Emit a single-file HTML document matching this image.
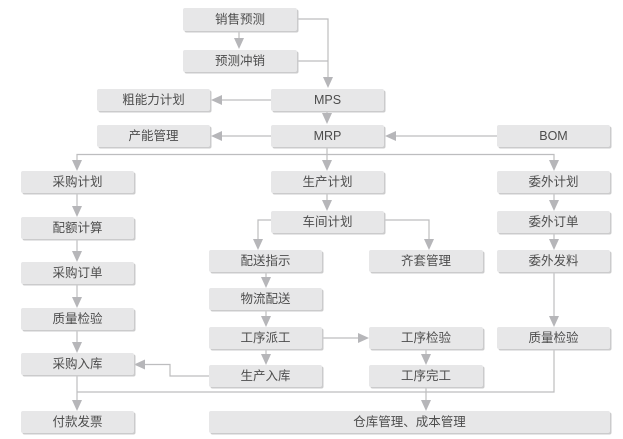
<!DOCTYPE html>
<html><head><meta charset="utf-8"><style>
html,body{margin:0;padding:0;background:#fff;}
svg{display:block;}
text{font-family:"Liberation Sans","Noto Sans CJK SC",sans-serif;font-size:12.5px;fill:#4d4d4d;text-anchor:middle;dominant-baseline:central;}
.l{stroke:#bdbdbf;stroke-width:1.2;fill:none;}
.a{fill:#b6b6b9;}
.s{fill:#cbcbcc;}
.b{fill:#e7e7e8;}
</style></head><body>
<svg width="623" height="439" viewBox="0 0 623 439" xmlns="http://www.w3.org/2000/svg">
<defs>
<g id="ad"><polygon class="a" points="-5,-11 5,-11 0,0"/></g>
<g id="al"><polygon class="a" points="0,0 11,-5 11,5"/></g>
<g id="ar"><polygon class="a" points="0,0 -11,-5 -11,5"/></g>
</defs>
<!-- connectors -->
<polyline class="l" points="297,19 328,19 328,80"/>
<polyline class="l" points="297,61 328,61"/>
<use href="#ad" x="328" y="88"/>
<line class="l" x1="239" y1="31" x2="239" y2="40"/>
<use href="#ad" x="239" y="49"/>
<line class="l" x1="271" y1="100" x2="218" y2="100"/>
<use href="#al" x="211" y="100"/>
<line class="l" x1="271" y1="136" x2="218" y2="136"/>
<use href="#al" x="211" y="136"/>
<line class="l" x1="497" y1="136" x2="392" y2="136"/>
<use href="#al" x="385" y="136"/>
<line class="l" x1="327" y1="111" x2="327" y2="116"/>
<use href="#ad" x="327" y="124"/>
<line class="l" x1="327" y1="147" x2="327" y2="163"/>
<use href="#ad" x="327" y="171"/>
<polyline class="l" points="77,163 77,154.5 554,154.5 554,163"/>
<use href="#ad" x="77" y="171"/>
<use href="#ad" x="554" y="171"/>
<line class="l" x1="327" y1="193" x2="327" y2="203"/>
<use href="#ad" x="327" y="211"/>
<polyline class="l" points="271,220 258,220 258,242"/>
<use href="#ad" x="258" y="250"/>
<polyline class="l" points="384,220 429,220 429,242"/>
<use href="#ad" x="429" y="250"/>
<line class="l" x1="554" y1="193" x2="554" y2="203"/>
<use href="#ad" x="554" y="211"/>
<line class="l" x1="554" y1="233" x2="554" y2="242"/>
<use href="#ad" x="554" y="250"/>
<line class="l" x1="554" y1="273" x2="554" y2="319"/>
<use href="#ad" x="554" y="327"/>
<polyline class="l" points="554,350 554,392 77,392"/>
<line class="l" x1="77" y1="193" x2="77" y2="209"/>
<use href="#ad" x="77" y="217"/>
<line class="l" x1="77" y1="239" x2="77" y2="254"/>
<use href="#ad" x="77" y="262"/>
<line class="l" x1="77" y1="284" x2="77" y2="300"/>
<use href="#ad" x="77" y="308"/>
<line class="l" x1="77" y1="330" x2="77" y2="345"/>
<use href="#ad" x="77" y="353"/>
<line class="l" x1="77" y1="376" x2="77" y2="403"/>
<use href="#ad" x="77" y="411"/>
<line class="l" x1="266" y1="272" x2="266" y2="280"/>
<use href="#ad" x="266" y="288"/>
<line class="l" x1="266" y1="311" x2="266" y2="319"/>
<use href="#ad" x="266" y="327"/>
<line class="l" x1="266" y1="350" x2="266" y2="357"/>
<use href="#ad" x="266" y="365"/>
<line class="l" x1="322" y1="338" x2="361" y2="338"/>
<use href="#ar" x="369" y="338"/>
<line class="l" x1="426" y1="350" x2="426" y2="357"/>
<use href="#ad" x="426" y="365"/>
<line class="l" x1="426" y1="388" x2="426" y2="403"/>
<use href="#ad" x="426" y="411"/>
<polyline class="l" points="209,376 170,376 170,364.5 141,364.5"/>
<use href="#al" x="134" y="364.5"/>

<!-- boxes -->
<g id="boxes">
<rect class="s" x="184.5" y="9.5" width="114" height="23" rx="2"/><rect class="b" x="183" y="8" width="114" height="23" rx="2"/><text x="240" y="19.5">销售预测</text>
<rect class="s" x="184.5" y="51.5" width="114" height="22" rx="2"/><rect class="b" x="183" y="50" width="114" height="22" rx="2"/><text x="240" y="61">预测冲销</text>
<rect class="s" x="98.5" y="90.5" width="113" height="22" rx="2"/><rect class="b" x="97" y="89" width="113" height="22" rx="2"/><text x="153.5" y="100">粗能力计划</text>
<rect class="s" x="272.5" y="90.5" width="113" height="22" rx="2"/><rect class="b" x="271" y="89" width="113" height="22" rx="2"/><text x="327.5" y="100">MPS</text>
<rect class="s" x="98.5" y="126.5" width="113" height="22" rx="2"/><rect class="b" x="97" y="125" width="113" height="22" rx="2"/><text x="153.5" y="136">产能管理</text>
<rect class="s" x="272.5" y="126.5" width="113" height="22" rx="2"/><rect class="b" x="271" y="125" width="113" height="22" rx="2"/><text x="327.5" y="136">MRP</text>
<rect class="s" x="498.5" y="126.5" width="113" height="22" rx="2"/><rect class="b" x="497" y="125" width="113" height="22" rx="2"/><text x="553.5" y="136">BOM</text>
<rect class="s" x="22.5" y="172.5" width="113" height="22" rx="2"/><rect class="b" x="21" y="171" width="113" height="22" rx="2"/><text x="77.5" y="182">采购计划</text>
<rect class="s" x="272.5" y="172.5" width="113" height="22" rx="2"/><rect class="b" x="271" y="171" width="113" height="22" rx="2"/><text x="327.5" y="182">生产计划</text>
<rect class="s" x="498.5" y="172.5" width="113" height="22" rx="2"/><rect class="b" x="497" y="171" width="113" height="22" rx="2"/><text x="553.5" y="182">委外计划</text>
<rect class="s" x="22.5" y="218.5" width="113" height="22" rx="2"/><rect class="b" x="21" y="217" width="113" height="22" rx="2"/><text x="77.5" y="228">配额计算</text>
<rect class="s" x="272.5" y="212.5" width="113" height="22" rx="2"/><rect class="b" x="271" y="211" width="113" height="22" rx="2"/><text x="327.5" y="222">车间计划</text>
<rect class="s" x="498.5" y="212.5" width="113" height="22" rx="2"/><rect class="b" x="497" y="211" width="113" height="22" rx="2"/><text x="553.5" y="222">委外订单</text>
<rect class="s" x="210.5" y="251.5" width="113" height="22" rx="2"/><rect class="b" x="209" y="250" width="113" height="22" rx="2"/><text x="265.5" y="261">配送指示</text>
<rect class="s" x="370.5" y="251.5" width="114" height="22" rx="2"/><rect class="b" x="369" y="250" width="114" height="22" rx="2"/><text x="426" y="261">齐套管理</text>
<rect class="s" x="498.5" y="251.5" width="113" height="22" rx="2"/><rect class="b" x="497" y="250" width="113" height="22" rx="2"/><text x="553.5" y="261">委外发料</text>
<rect class="s" x="22.5" y="263.5" width="113" height="22" rx="2"/><rect class="b" x="21" y="262" width="113" height="22" rx="2"/><text x="77.5" y="273">采购订单</text>
<rect class="s" x="210.5" y="289.5" width="113" height="22" rx="2"/><rect class="b" x="209" y="288" width="113" height="22" rx="2"/><text x="265.5" y="299">物流配送</text>
<rect class="s" x="22.5" y="309.5" width="113" height="22" rx="2"/><rect class="b" x="21" y="308" width="113" height="22" rx="2"/><text x="77.5" y="319">质量检验</text>
<rect class="s" x="210.5" y="328.5" width="113" height="22" rx="2"/><rect class="b" x="209" y="327" width="113" height="22" rx="2"/><text x="265.5" y="338">工序派工</text>
<rect class="s" x="370.5" y="328.5" width="114" height="22" rx="2"/><rect class="b" x="369" y="327" width="114" height="22" rx="2"/><text x="426" y="338">工序检验</text>
<rect class="s" x="498.5" y="328.5" width="113" height="22" rx="2"/><rect class="b" x="497" y="327" width="113" height="22" rx="2"/><text x="553.5" y="338">质量检验</text>
<rect class="s" x="22.5" y="354.5" width="113" height="22" rx="2"/><rect class="b" x="21" y="353" width="113" height="22" rx="2"/><text x="77.5" y="364">采购入库</text>
<rect class="s" x="210.5" y="366.5" width="113" height="22" rx="2"/><rect class="b" x="209" y="365" width="113" height="22" rx="2"/><text x="265.5" y="376">生产入库</text>
<rect class="s" x="370.5" y="366.5" width="114" height="22" rx="2"/><rect class="b" x="369" y="365" width="114" height="22" rx="2"/><text x="426" y="376">工序完工</text>
<rect class="s" x="22.5" y="412.5" width="113" height="22" rx="2"/><rect class="b" x="21" y="411" width="113" height="22" rx="2"/><text x="77.5" y="422">付款发票</text>
<rect class="s" x="210.5" y="412.5" width="401" height="22" rx="2"/><rect class="b" x="209" y="411" width="401" height="22" rx="2"/><text x="409.5" y="422">仓库管理、成本管理</text>
</g>
</svg>
</body></html>
